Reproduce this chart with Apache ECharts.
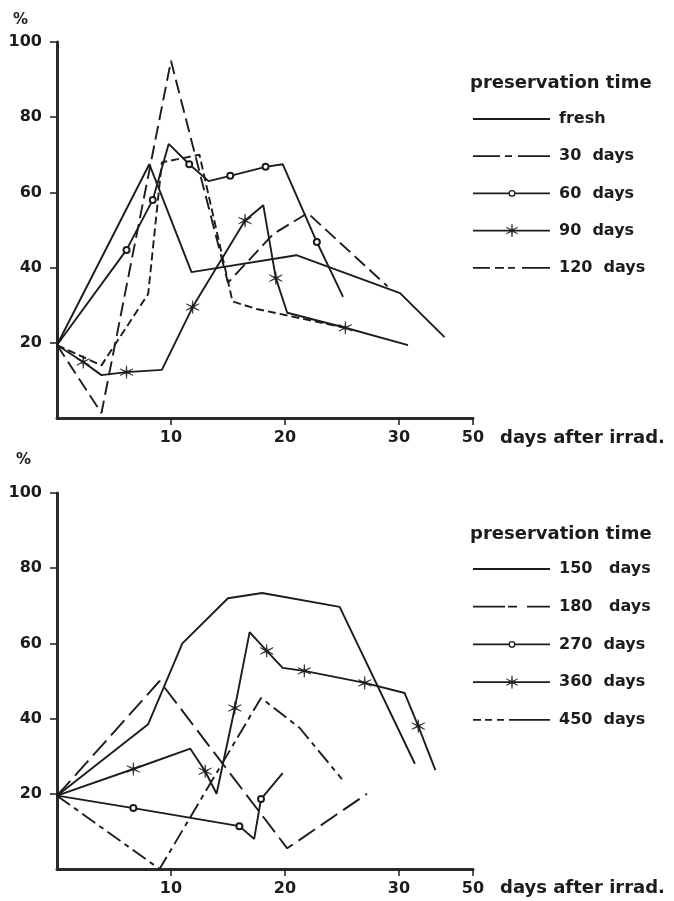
<!DOCTYPE html>
<html>
<head>
<meta charset="utf-8">
<script src="https://cdn.jsdelivr.net/npm/echarts@6/dist/echarts.min.js"></script>
<style>
  html, body { margin: 0; padding: 0; background: #fff; }
  #chart { width: 674px; height: 901px; }
</style>
</head>
<body>
<div id="chart"></div>
<script>
// Days after irradiation vs. percentage, two panels by preservation time.
// Axis position 36.5 is the broken end of the day axis, labelled "50".
const xTicks = [10, 20, 30, 36.5];
const xTickLabels = ['10', '20', '30', '50'];
const yTicks = [20, 40, 60, 80, 100];

// Upper panel: [day, percent]
const fresh   = [[0, 19.4], [8.1, 67.5], [11.8, 38.8], [21, 43.3], [30.1, 33.2], [34, 21.5]];
const days30  = [[0, 19.4], [3.9, 1.3], [10, 95], [15, 36], [19, 49], [22, 54.5], [29, 35]];
const days60  = [[0, 19.4], [6.1, 44.7], [8.4, 58], [9.8, 72.9], [11.6, 67.5], [13.3, 63], [15.2, 64.4], [18.3, 66.8], [19.8, 67.5], [22.8, 46.8], [25.1, 32.2]];
const days90  = [[0, 19.4], [2.3, 14.9], [3.9, 11.4], [6.1, 12.2], [9.2, 12.8], [11.9, 29.5], [16.5, 52.5], [18.1, 56.6], [19.2, 37.2], [20.2, 28], [25.3, 24], [30.8, 19.4]];
const days120 = [[0, 19.4], [3.9, 14], [8, 33], [9.2, 68], [12.5, 70], [15.4, 31], [17.5, 29], [25.3, 24]];

// Lower panel: [day, percent]
const days150 = [[0, 19.5], [8, 38.5], [11, 60], [15, 72], [18, 73.4], [24.8, 69.7], [31.4, 28]];
const days180 = [[0, 19.5], [9, 50], [20.2, 5.5], [27.2, 20]];
const days270 = [[0, 19.5], [6.7, 16.2], [16, 11.4], [17.3, 8], [17.9, 18.6], [19.8, 25.5]];
const days360 = [[0, 19.5], [6.7, 26.6], [11.7, 32], [13, 26], [14, 20], [15.6, 42.8], [16.9, 63], [18.4, 58], [19.8, 53.5], [21.7, 52.7], [27, 49.5], [30.5, 46.8], [31.7, 38], [33.2, 26.3]];
const days450 = [[0, 19.5], [9, 0], [17.9, 45.5], [21.3, 37.5], [25, 23.9]];

// Which points of the marked series carry a symbol
const marked60  = [1, 2, 4, 6, 7, 9];
const marked90  = [1, 3, 5, 6, 8, 10];
const marked270 = [1, 2, 4];
const marked360 = [1, 3, 5, 7, 9, 10, 12];

const upperLabels = ['fresh', '30  days', '60  days', '90  days', '120  days'];
const lowerLabels = ['150   days', '180   days', '270  days', '360  days', '450  days'];

// Six-armed thin star used as the asterisk marker, as points in a 20x20 box.
function asteriskPoints() {
  const pts = [];
  for (let i = 0; i < 12; i++) {
    const r = i % 2 === 0 ? 10 : 1.5;
    const a = -Math.PI / 2 + i * Math.PI / 6;
    pts.push([10 + r * Math.cos(a), 10 + r * Math.sin(a)]);
  }
  return pts;
}
const ASTER_PTS = asteriskPoints();
const ASTER = 'path://M' + ASTER_PTS.map(p => p[0].toFixed(2) + ' ' + p[1].toFixed(2)).join(' L') + ' Z';

const INK = '#1c1c1c';
const FONT = 'DejaVu Sans';

function xAxisFor(gridIndex) {
  return {
    type: 'value', gridIndex, min: 0, max: 36.5,
    axisLine: { show: true, lineStyle: { color: '#2a2a2a', width: 3 } },
    axisTick: { show: true, customValues: xTicks, length: 7, lineStyle: { color: INK, width: 1.5 } },
    axisLabel: {
      customValues: xTicks, color: INK, fontFamily: FONT, fontWeight: 'bold', fontSize: 16, margin: 12,
      formatter: v => xTickLabels[xTicks.indexOf(v)] || ''
    },
    splitLine: { show: false }
  };
}
function yAxisFor(gridIndex) {
  return {
    type: 'value', gridIndex, min: 0, max: 100, interval: 20,
    axisLine: { show: true, lineStyle: { color: '#2a2a2a', width: 3 } },
    axisTick: { show: true, customValues: yTicks, length: 7, lineStyle: { color: INK, width: 1.5 } },
    axisLabel: {
      customValues: yTicks, color: INK, fontFamily: FONT, fontWeight: 'bold', fontSize: 16, margin: 15
    },
    splitLine: { show: false }
  };
}

function withMarks(data, marks) {
  return data.map((p, i) => marks.indexOf(i) >= 0 ? { value: p } : { value: p, symbol: 'none' });
}

function lineSeries(data, idx, dash, symbol, symbolSize) {
  return {
    type: 'line', data, xAxisIndex: idx, yAxisIndex: idx,
    symbol: symbol || 'none', symbolSize: symbolSize || 0,
    showSymbol: !!symbol,
    lineStyle: { color: INK, width: 1.9, type: dash || 'solid' },
    itemStyle: { color: INK, borderColor: INK, borderWidth: symbol === ASTER ? 0.6 : 1.3 },
    emphasis: { disabled: true },
    silent: true, animation: false
  };
}

// Dash patterns for the plotted lines
const DASH30 = [14, 6], DASH120 = [8, 4], DASH180 = [20, 7], DASH450 = [16, 5, 5, 5];

const series = [
  lineSeries(fresh, 0),
  lineSeries(days30, 0, DASH30),
  lineSeries(withMarks(days60, marked60), 0, 'solid', 'emptyCircle', 6),
  lineSeries(withMarks(days90, marked90), 0, 'solid', ASTER, 13),
  lineSeries(days120, 0, DASH120),
  lineSeries(days150, 1),
  lineSeries(days180, 1, DASH180),
  lineSeries(withMarks(days270, marked270), 1, 'solid', 'emptyCircle', 6),
  lineSeries(withMarks(days360, marked360), 1, 'solid', ASTER, 13),
  lineSeries(days450, 1, DASH450)
];

// Key: sample line, optional marker, label
const upperKeyDash = [null, [27, 5, 7, 6, 32, 0], null, null, [17, 5, 9, 4, 7, 7, 28, 0]];
const lowerKeyDash = [null, [32, 3, 9, 10, 23, 0], null, null, [8, 4, 7, 5, 7, 5, 41, 0]];
const keyMarkers = [null, null, 'circle', 'aster', null];

function keyBlock(labels, dashes, titleY, firstY, step) {
  const els = [{ type: 'text', x: 470, y: titleY,
    style: { text: 'preservation time', fill: INK, font: 'bold 18px ' + FONT, verticalAlign: 'middle' } }];
  labels.forEach((lab, i) => {
    const y = firstY + i * step;
    els.push({ type: 'line', shape: { x1: 473, y1: y, x2: 550, y2: y },
      style: { stroke: INK, lineWidth: 1.8, lineDash: dashes[i] || null } });
    if (keyMarkers[i] === 'circle') {
      els.push({ type: 'circle', shape: { cx: 512, cy: y, r: 2.8 },
        style: { fill: '#fff', stroke: INK, lineWidth: 1.3 } });
    } else if (keyMarkers[i] === 'aster') {
      const s = 0.65;
      els.push({ type: 'polygon',
        shape: { points: ASTER_PTS.map(p => [512 + (p[0] - 10) * s, y + (p[1] - 10) * s]) },
        style: { fill: INK, stroke: INK, lineWidth: 0.6 } });
    }
    els.push({ type: 'text', x: 559, y: y,
      style: { text: lab, fill: INK, font: 'bold 16px ' + FONT, verticalAlign: 'middle' } });
  });
  return els;
}

const chart = echarts.init(document.getElementById('chart'), null, { renderer: 'canvas' });
chart.setOption({
  backgroundColor: '#fff',
  animation: false,
  grid: [
    { left: 57, top: 42, width: 416, height: 376 },
    { left: 57, top: 493, width: 416, height: 376 }
  ],
  xAxis: [xAxisFor(0), xAxisFor(1)],
  yAxis: [yAxisFor(0), yAxisFor(1)],
  series,
  graphic: [
    { type: 'text', x: 13, y: 20, style: { text: '%', fill: INK, font: 'bold 15px ' + FONT, verticalAlign: 'middle' } },
    { type: 'text', x: 16, y: 460, style: { text: '%', fill: INK, font: 'bold 15px ' + FONT, verticalAlign: 'middle' } },
    { type: 'text', x: 500, y: 438, style: { text: 'days after irrad.', fill: INK, font: 'bold 18px ' + FONT, verticalAlign: 'middle' } },
    { type: 'text', x: 500, y: 888, style: { text: 'days after irrad.', fill: INK, font: 'bold 18px ' + FONT, verticalAlign: 'middle' } }
  ].concat(keyBlock(upperLabels, upperKeyDash, 83, 119, 37.2))
   .concat(keyBlock(lowerLabels, lowerKeyDash, 534, 569, 37.7))
});
</script>
</body>
</html>
